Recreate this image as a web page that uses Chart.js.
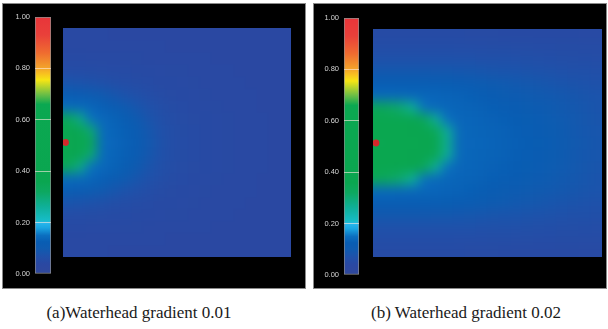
<!DOCTYPE html>
<html><head><meta charset="utf-8">
<script src="https://cdn.jsdelivr.net/npm/chart.js@4.4.1/dist/chart.umd.min.js"></script>
<style>
html,body{margin:0;padding:0;background:#fff;width:608px;height:329px;overflow:hidden;}
.panel{position:absolute;background:#000;border:1px solid #8a8a8a;box-sizing:border-box;}
canvas{position:absolute;display:block;}
.cap{position:absolute;font-family:"Liberation Serif","Times New Roman",serif;font-size:17px;line-height:17px;color:#1a1a1a;white-space:nowrap;transform:translateX(-50%);}
</style></head><body>
<div class="panel" style="left:2px;top:3px;width:304px;height:286px"></div>
<div class="panel" style="left:313px;top:3px;width:294px;height:286px"></div>
<canvas id="cbA" width="52" height="277" style="left:0px;top:7px"></canvas>
<canvas id="cbB" width="51" height="277" style="left:309px;top:8px"></canvas>
<canvas id="fA" width="228" height="229" style="left:63px;top:28px"></canvas>
<canvas id="fB" width="229" height="228" style="left:373px;top:29px"></canvas>
<div class="cap" id="capA" style="left:139px;top:304px"></div>
<div class="cap" id="capB" style="left:466px;top:304px"></div>
<script>
// ---- data ----
const captions = ['(a)Waterhead gradient 0.01', '(b) Waterhead gradient 0.02'];
const colorbarTicks = [0, 0.2, 0.4, 0.6, 0.8, 1.0];
// source (red dot) position in grid units (x: columns from left, y: rows from bottom)
const sourceA = {x: 0.22, y: 9.5};
const sourceB = {x: 0.26, y: 9.5};
// concentration field, panel (a): 19 rows (top to bottom) x 20 columns (left to right)
const fieldA = [
 [0.042,0.042,0.042,0.042,0.041,0.041,0.041,0.041,0.04,0.04,0.04,0.04,0.04,0.04,0.04,0.04,0.04,0.04,0.04,0.04],
 [0.044,0.044,0.044,0.043,0.043,0.043,0.042,0.042,0.042,0.041,0.041,0.041,0.04,0.04,0.04,0.04,0.04,0.04,0.04,0.04],
 [0.047,0.047,0.046,0.046,0.046,0.045,0.045,0.044,0.044,0.043,0.043,0.042,0.042,0.041,0.041,0.04,0.04,0.04,0.04,0.04],
 [0.054,0.054,0.053,0.052,0.051,0.05,0.048,0.047,0.046,0.045,0.045,0.044,0.043,0.042,0.042,0.041,0.041,0.04,0.04,0.04],
 [0.078,0.076,0.071,0.066,0.06,0.056,0.053,0.05,0.048,0.047,0.046,0.045,0.044,0.043,0.042,0.042,0.041,0.041,0.04,0.04],
 [0.12,0.116,0.108,0.097,0.085,0.074,0.065,0.058,0.052,0.049,0.047,0.046,0.045,0.044,0.043,0.042,0.042,0.041,0.041,0.04],
 [0.142,0.14,0.136,0.128,0.116,0.10,0.083,0.069,0.06,0.053,0.05,0.048,0.046,0.045,0.044,0.043,0.042,0.041,0.041,0.04],
 [0.34,0.28,0.15,0.14,0.133,0.12,0.102,0.08,0.065,0.056,0.052,0.049,0.047,0.046,0.045,0.044,0.043,0.042,0.041,0.04],
 [0.47,0.42,0.30,0.142,0.136,0.128,0.114,0.09,0.07,0.059,0.053,0.05,0.048,0.046,0.045,0.044,0.043,0.042,0.041,0.04],
 [0.52,0.45,0.34,0.145,0.138,0.13,0.118,0.095,0.072,0.06,0.054,0.05,0.048,0.046,0.045,0.044,0.043,0.042,0.041,0.04],
 [0.47,0.42,0.30,0.142,0.136,0.128,0.114,0.09,0.07,0.059,0.053,0.05,0.048,0.046,0.045,0.044,0.043,0.042,0.041,0.04],
 [0.34,0.28,0.15,0.14,0.133,0.12,0.102,0.08,0.065,0.056,0.052,0.049,0.047,0.046,0.045,0.044,0.043,0.042,0.041,0.04],
 [0.142,0.14,0.136,0.128,0.116,0.10,0.083,0.069,0.06,0.053,0.05,0.048,0.046,0.045,0.044,0.043,0.042,0.041,0.041,0.04],
 [0.12,0.116,0.108,0.097,0.085,0.074,0.065,0.058,0.052,0.049,0.047,0.046,0.045,0.044,0.043,0.042,0.042,0.041,0.041,0.04],
 [0.078,0.076,0.071,0.066,0.06,0.056,0.053,0.05,0.048,0.047,0.046,0.045,0.044,0.043,0.042,0.042,0.041,0.041,0.04,0.04],
 [0.054,0.054,0.053,0.052,0.051,0.05,0.048,0.047,0.046,0.045,0.045,0.044,0.043,0.042,0.042,0.041,0.041,0.04,0.04,0.04],
 [0.047,0.047,0.046,0.046,0.046,0.045,0.045,0.044,0.044,0.043,0.043,0.042,0.042,0.041,0.041,0.04,0.04,0.04,0.04,0.04],
 [0.044,0.044,0.044,0.043,0.043,0.043,0.042,0.042,0.042,0.041,0.041,0.041,0.04,0.04,0.04,0.04,0.04,0.04,0.04,0.04],
 [0.042,0.042,0.042,0.042,0.041,0.041,0.041,0.041,0.04,0.04,0.04,0.04,0.04,0.04,0.04,0.04,0.04,0.04,0.04,0.04]
];
// concentration field, panel (b)
const fieldB = [
 [0.05,0.05,0.05,0.05,0.05,0.05,0.05,0.05,0.049,0.049,0.049,0.048,0.048,0.048,0.048,0.047,0.047,0.047,0.046,0.046],
 [0.058,0.058,0.058,0.058,0.058,0.058,0.058,0.057,0.057,0.057,0.056,0.056,0.055,0.055,0.054,0.054,0.053,0.053,0.052,0.052],
 [0.07,0.07,0.07,0.07,0.07,0.07,0.07,0.069,0.069,0.068,0.067,0.066,0.065,0.064,0.062,0.061,0.06,0.059,0.058,0.057],
 [0.092,0.092,0.092,0.092,0.092,0.091,0.09,0.089,0.087,0.085,0.082,0.08,0.078,0.076,0.074,0.072,0.07,0.068,0.066,0.064],
 [0.125,0.125,0.125,0.124,0.123,0.122,0.12,0.117,0.113,0.108,0.103,0.099,0.095,0.091,0.087,0.083,0.08,0.077,0.074,0.071],
 [0.14,0.14,0.139,0.138,0.137,0.136,0.134,0.132,0.128,0.122,0.117,0.112,0.106,0.10,0.097,0.094,0.09,0.086,0.082,0.078],
 [0.34,0.32,0.30,0.26,0.15,0.14,0.137,0.135,0.133,0.13,0.127,0.123,0.118,0.112,0.106,0.10,0.095,0.09,0.085,0.08],
 [0.45,0.44,0.40,0.38,0.34,0.26,0.15,0.138,0.136,0.134,0.131,0.128,0.124,0.12,0.114,0.107,0.099,0.093,0.087,0.082],
 [0.48,0.47,0.46,0.42,0.38,0.35,0.26,0.14,0.137,0.135,0.133,0.13,0.127,0.123,0.118,0.11,0.102,0.095,0.089,0.084],
 [0.52,0.50,0.48,0.45,0.41,0.37,0.27,0.14,0.138,0.136,0.134,0.131,0.128,0.125,0.12,0.113,0.104,0.097,0.09,0.085],
 [0.48,0.47,0.46,0.42,0.38,0.35,0.26,0.14,0.137,0.135,0.133,0.13,0.127,0.123,0.118,0.11,0.102,0.095,0.089,0.084],
 [0.45,0.44,0.40,0.38,0.34,0.26,0.15,0.138,0.136,0.134,0.131,0.128,0.124,0.12,0.114,0.107,0.099,0.093,0.087,0.082],
 [0.34,0.32,0.30,0.26,0.15,0.14,0.137,0.135,0.133,0.13,0.127,0.123,0.118,0.112,0.106,0.10,0.095,0.09,0.085,0.08],
 [0.14,0.14,0.139,0.138,0.137,0.136,0.134,0.132,0.128,0.122,0.117,0.112,0.106,0.10,0.097,0.094,0.09,0.086,0.082,0.078],
 [0.125,0.125,0.125,0.124,0.123,0.122,0.12,0.117,0.113,0.108,0.103,0.099,0.095,0.091,0.087,0.083,0.08,0.077,0.074,0.071],
 [0.092,0.092,0.092,0.092,0.092,0.091,0.09,0.089,0.087,0.085,0.082,0.08,0.078,0.076,0.074,0.072,0.07,0.068,0.066,0.064],
 [0.07,0.07,0.07,0.07,0.07,0.07,0.07,0.069,0.069,0.068,0.067,0.066,0.065,0.064,0.062,0.061,0.06,0.059,0.058,0.057],
 [0.058,0.058,0.058,0.058,0.058,0.058,0.058,0.057,0.057,0.057,0.056,0.056,0.055,0.055,0.054,0.054,0.053,0.053,0.052,0.052],
 [0.05,0.05,0.05,0.05,0.05,0.05,0.05,0.05,0.049,0.049,0.049,0.048,0.048,0.048,0.048,0.047,0.047,0.047,0.046,0.046]
];

// ---- style: colour map of the legend bar ----
const cmapStops = [
 [0.00,'#30489c'],[0.04,'#2a48a2'],[0.07,'#1f51aa'],[0.10,'#0f5bb0'],[0.125,'#085db3'],[0.15,'#0b6fc0'],
 [0.18,'#1aa6e2'],[0.198,'#26b6ec'],[0.21,'#16bcc6'],[0.26,'#0fb09a'],[0.32,'#0da860'],
 [0.36,'#0aa650'],[0.66,'#0ba851'],[0.70,'#6fbf45'],[0.755,'#f6e514'],[0.78,'#f8c020'],
 [0.80,'#f3a52a'],[0.86,'#ef6c30'],[0.93,'#e9403a'],[1.00,'#e8353a']
];
function hex(h){return [parseInt(h.substr(1,2),16),parseInt(h.substr(3,2),16),parseInt(h.substr(5,2),16)];}
function colorAt(v){
  v = Math.max(0, Math.min(1, v));
  for (let i = 1; i < cmapStops.length; i++) {
    const [v1,c1] = cmapStops[i];
    if (v <= v1) {
      const [v0,c0] = cmapStops[i-1];
      const t = (v - v0) / (v1 - v0), a = hex(c0), b = hex(c1);
      return 'rgb(' + a.map((x,k)=>Math.round(x + (b[k]-x)*t)).join(',') + ')';
    }
  }
  return cmapStops[cmapStops.length-1][1];
}

document.getElementById('capA').textContent = captions[0];
document.getElementById('capB').textContent = captions[1];

// smooth rendering of the cell grid (blur of the drawn cells, with edge padding)
const fieldBlur = {
  id: 'fieldBlur',
  beforeDatasetsDraw(chart){
    const a = chart.chartArea, ctx = chart.ctx;
    ctx.save(); ctx.fillStyle = colorAt(0.04);
    ctx.fillRect(a.left, a.top, a.right - a.left, a.bottom - a.top); ctx.restore();
  },
  beforeDatasetDraw(chart, args){
    if (args.meta.type !== 'scatter') return;
    const a = chart.chartArea;
    const L = Math.round(a.left), T = Math.round(a.top);
    const W = Math.round(a.right - a.left), H = Math.round(a.bottom - a.top), p = 24;
    const src = document.createElement('canvas'); src.width = W; src.height = H;
    src.getContext('2d').drawImage(chart.canvas, L, T, W, H, 0, 0, W, H);
    const pad = document.createElement('canvas'); pad.width = W + 2*p; pad.height = H + 2*p;
    const g = pad.getContext('2d');
    g.drawImage(src, p, p);
    g.drawImage(src, 0, 0, 1, H, 0, p, p, H);
    g.drawImage(src, W-1, 0, 1, H, W+p, p, p, H);
    g.drawImage(src, 0, 0, W, 1, p, 0, W, p);
    g.drawImage(src, 0, H-1, W, 1, p, H+p, W, p);
    g.drawImage(src, 0, 0, 1, 1, 0, 0, p, p);
    g.drawImage(src, W-1, 0, 1, 1, W+p, 0, p, p);
    g.drawImage(src, 0, H-1, 1, 1, 0, H+p, p, p);
    g.drawImage(src, W-1, H-1, 1, 1, W+p, H+p, p, p);
    const ctx = chart.ctx;
    ctx.save();
    ctx.beginPath(); ctx.rect(L, T, W, H); ctx.clip();
    ctx.filter = 'blur(6px)';
    ctx.drawImage(pad, L - p, T - p);
    ctx.restore();
  }
};

function makeField(id, field, source){
  const rows = field.length, cols = field[0].length;
  const labels = field[0].map((_, i) => String(i));
  const datasets = field.map((row, r) => ({
    type: 'bar',
    data: row.map(() => [rows - 1 - r, rows - r]),
    backgroundColor: row.map(colorAt),
    borderWidth: 0, grouped: false, barPercentage: 1, categoryPercentage: 1,
    order: 1
  }));
  datasets.push({type: 'scatter', data: [source], xAxisID: 'xs', yAxisID: 'y',
    backgroundColor: '#d6282b', borderWidth: 0, pointRadius: 3.4, order: 0, clip: false});
  new Chart(document.getElementById(id), {
    type: 'bar',
    data: {labels, datasets},
    options: {
      responsive: false, devicePixelRatio: 1, animation: false, events: [],
      layout: {padding: 0, autoPadding: false},
      plugins: {legend: {display: false}, tooltip: {enabled: false}},
      scales: {
        x: {display: false},
        xs: {type: 'linear', display: false, min: 0, max: cols, offset: false, grid: {offset: false}},
        y: {type: 'linear', display: false, min: 0, max: rows, offset: false}
      }
    },
    plugins: [fieldBlur]
  });
}

function makeColorbar(id){
  new Chart(document.getElementById(id), {
    type: 'bar',
    data: {labels: [''], datasets: [{
      data: [[0, 1]],
      backgroundColor: (c) => {
        const a = c.chart.chartArea; if (!a) return '#000';
        const gr = c.chart.ctx.createLinearGradient(0, a.bottom, 0, a.top);
        cmapStops.forEach(([s, col]) => gr.addColorStop(s, col));
        return gr;
      },
      borderColor: '#8e8e8e', borderWidth: 1, borderSkipped: false,
      barPercentage: 1, categoryPercentage: 1
    }]},
    options: {
      responsive: false, devicePixelRatio: 1, animation: false, events: [],
      layout: {padding: {top: 10, bottom: 10, left: 0, right: 1}},
      plugins: {legend: {display: false}, tooltip: {enabled: false}},
      scales: {
        x: {display: false},
        y: {
          min: 0, max: 1,
          afterBuildTicks: (s) => { s.ticks = colorbarTicks.map(v => ({value: v})); },
          afterFit: (s) => { s.width = 35; },
          ticks: {color: '#d4d4d4', padding: 5, font: {family: 'Liberation Sans, Arial, sans-serif', size: 7.5},
                  callback: (v) => Number(v).toFixed(2)},
          grid: {z: 1, drawTicks: false, lineWidth: 1,
                 color: (c) => (c.tick && c.tick.value > 0.01 && c.tick.value < 0.99) ? 'rgba(255,235,225,0.6)' : 'rgba(0,0,0,0)'},
          border: {display: false}
        }
      }
    }
  });
}

makeColorbar('cbA');
makeColorbar('cbB');
makeField('fA', fieldA, sourceA);
makeField('fB', fieldB, sourceB);
</script>
</body></html>
